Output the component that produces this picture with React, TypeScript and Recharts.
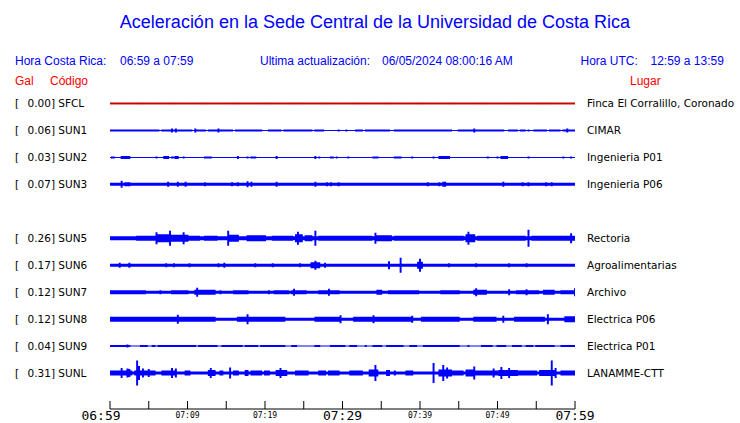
import React from 'react';
import { ComposedChart, Area, XAxis, YAxis } from 'recharts';

// time axis, minutes after 06:59
const timeTicks = [0, 5, 10, 15, 20, 25, 30, 35, 40, 45, 50, 55, 60];
const tickLabels: Record<number, string> = {
  0: '06:59', 10: '07:09', 20: '07:19', 30: '07:29', 40: '07:39', 50: '07:49', 60: '07:59',
};
const majorTicks = [0, 30, 60];

// trace slots, SUN4 has no trace
const slots = ['SFCL', 'SUN1', 'SUN2', 'SUN3', 'SUN4', 'SUN5', 'SUN6', 'SUN7', 'SUN8', 'SUN9', 'SUNL'];
const codes = ['SFCL', 'SUN1', 'SUN2', 'SUN3', 'SUN5', 'SUN6', 'SUN7', 'SUN8', 'SUN9', 'SUNL'];
const gals = ['0.00', '0.06', '0.03', '0.07', '0.26', '0.17', '0.12', '0.12', '0.04', '0.31'];
const places = [
  'Finca El Corralillo, Coronado', 'CIMAR', 'Ingenieria P01', 'Ingenieria P06', 'Rectoria',
  'Agroalimentarias', 'Archivo', 'Electrica P06', 'Electrica P01', 'LANAMME-CTT',
];

// quiet amplitude of each trace
const baseAmp = [0.5, 0.5, 0.5, 1.5, 2.0, 1.5, 1.5, 1.5, 0.5, 1.5];

// bursts: [from min, to min, amplitude]
const bursts: [number, number, number][][] = [
  [],
  [[0, 1.5, 1.0], [1.8, 3.3, 1.0], [3.6, 5.2, 1.0], [5.4, 6.2, 1.0], [6.7, 7.0, 1.0], [7.3, 10.5, 1.0],
    [7.9, 7.9, 2.0], [8.6, 8.6, 2.0], [10.9, 10.9, 2.0], [11.2, 12.3, 1.0], [12.7, 14.4, 1.0], [14.0, 14.0, 2.0],
    [14.8, 15.7, 1.0], [16.3, 17.8, 1.0], [18.1, 18.7, 1.0], [19.0, 19.6, 1.0], [20.4, 22.0, 1.0], [22.6, 23.2, 1.0],
    [23.4, 26.0, 1.0], [26.4, 27.5, 1.0], [29.5, 29.5, 1.0], [30.5, 30.5, 1.0], [31.8, 32.5, 1.0], [33.0, 35.0, 1.0],
    [35.3, 36.0, 1.0], [36.8, 44.1, 1.0], [45.0, 48.4, 1.0], [47.0, 47.0, 2.0], [48.8, 50.7, 1.0], [51.4, 52.5, 1.0],
    [53.0, 53.6, 1.0], [54.0, 54.0, 1.0], [54.8, 56.3, 1.0], [56.8, 58.1, 1.0], [58.5, 60, 1.0], [59.1, 59.1, 2.0]],
  [[0.2, 0.6, 1.0], [1.5, 2.4, 1.5], [6.0, 6.0, 1.0], [7.1, 7.5, 1.5], [8.0, 8.2, 1.0], [8.6, 8.8, 1.5],
    [9.6, 9.6, 1.0], [12.3, 13.1, 1.0], [16.5, 16.5, 1.5], [17.8, 17.8, 1.0], [18.3, 18.7, 1.0], [21.4, 21.6, 1.5],
    [26.4, 26.4, 1.5], [26.9, 26.9, 1.0], [28.5, 28.7, 1.0], [29.3, 29.3, 1.0], [30.8, 30.8, 1.0], [34.0, 34.4, 1.0],
    [36.8, 37.4, 1.0], [38.9, 38.9, 1.0], [41.8, 41.8, 1.0], [42.4, 43.7, 1.5], [48.8, 48.8, 1.0], [50.1, 50.1, 1.0],
    [50.5, 51.2, 1.5], [54.1, 54.1, 1.0], [58.6, 58.6, 1.0], [59.5, 59.5, 1.0]],
  [[1.6, 1.6, 3.5], [1.9, 2.4, 2.0], [7.4, 7.4, 2.5], [8.8, 8.8, 2.5], [9.7, 9.7, 2.5], [12.3, 12.3, 2.0],
    [15.8, 15.8, 2.0], [16.6, 16.6, 2.0], [17.8, 17.8, 3.0], [18.3, 18.3, 2.5], [21.5, 21.5, 2.5], [26.4, 26.4, 2.5],
    [27.9, 27.9, 2.0], [28.6, 28.6, 2.0], [29.5, 29.5, 2.0], [41.1, 41.1, 2.0], [42.6, 42.6, 2.0], [43.0, 43.3, 2.5],
    [50.8, 50.8, 2.5], [53.3, 53.3, 2.0], [54.1, 54.1, 2.0], [56.3, 56.3, 2.0], [57.1, 57.1, 2.0]],
  [[3.4, 5.8, 2.5], [6.0, 7.5, 4.0], [6.0, 6.0, 6.0], [7.7, 7.7, 7.5], [8.0, 9.9, 3.5], [9.5, 9.5, 6.0],
    [10.3, 11.4, 2.5], [12.3, 13.8, 2.5], [15.3, 16.6, 3.5], [15.3, 15.3, 7.5], [17.8, 20.0, 3.0], [20.9, 23.4, 2.5],
    [24.1, 24.7, 4.0], [24.3, 24.3, 6.5], [25.2, 26.0, 3.0], [26.4, 26.4, 7.5], [26.9, 28.2, 2.5], [28.6, 33.8, 2.5],
    [34.3, 34.3, 5.5], [34.4, 36.3, 3.0], [36.8, 45.4, 2.5], [45.9, 47.1, 4.0], [46.2, 46.2, 6.5], [47.5, 53.5, 2.5],
    [54.1, 54.1, 8.5], [54.4, 60, 2.5], [59.4, 59.4, 5.0]],
  [[1.3, 1.3, 2.5], [2.6, 2.6, 2.5], [7.3, 7.3, 2.0], [8.3, 8.3, 2.0], [10.3, 10.3, 2.0], [14.0, 14.0, 2.0],
    [14.8, 14.8, 2.5], [18.7, 18.7, 2.0], [20.9, 20.9, 2.0], [24.5, 24.5, 2.0], [26.0, 26.9, 3.0], [26.5, 26.5, 4.5],
    [27.7, 27.7, 2.5], [35.9, 35.9, 4.0], [37.5, 37.5, 7.5], [39.8, 40.2, 3.5], [40.0, 40.0, 6.5],
    [43.7, 43.7, 2.0], [47.3, 47.3, 2.0], [51.4, 51.4, 2.0], [53.8, 53.8, 2.0]],
  [[0, 4.5, 2.0], [6.5, 6.5, 2.0], [8.0, 10.1, 2.0], [11.0, 13.5, 2.5], [11.3, 11.3, 4.5], [14.2, 14.2, 2.0],
    [16.1, 17.8, 2.0], [20.4, 20.4, 2.0], [21.3, 23.0, 2.0], [23.4, 25.2, 2.0], [23.7, 23.7, 3.5], [26.9, 29.5, 2.0],
    [28.2, 28.2, 3.5], [34.6, 35.1, 2.5], [35.9, 39.8, 2.0], [42.8, 45.0, 2.0], [47.1, 48.4, 2.5],
    [47.3, 47.3, 4.0], [51.4, 51.4, 3.0], [52.5, 55.3, 2.0], [53.8, 53.8, 3.0], [56.1, 57.2, 2.5],
    [58.3, 60, 2.0], [59.9, 59.9, 4.0]],
  [[0, 8.0, 2.5], [8.8, 8.8, 4.5], [8.0, 13.5, 2.5], [16.6, 22.6, 2.5], [17.8, 17.8, 5.0],
    [26.5, 29.5, 2.5], [29.8, 29.8, 4.0], [31.4, 33.8, 2.5], [34.1, 34.1, 4.0], [34.2, 39.0, 2.5],
    [39.1, 39.1, 3.5], [40.2, 45.0, 2.5], [47.1, 49.7, 2.5], [50.8, 50.8, 3.5], [52.3, 56.1, 2.5],
    [56.6, 56.6, 5.0], [58.7, 60, 3.0]],
  [[0, 2.6, 1.0], [2.3, 2.3, 1.5], [4.0, 4.7, 1.0], [5.4, 5.8, 1.0], [6.2, 11.0, 1.0], [11.6, 13.8, 1.0],
    [14.4, 17.0, 1.0], [17.4, 19.1, 1.0], [19.6, 22.4, 1.0], [23.4, 24.1, 1.0], [26.5, 26.9, 1.0], [28.6, 30.3, 1.0],
    [31.0, 31.8, 1.0], [32.9, 32.9, 1.0], [34.0, 35.1, 1.0], [35.7, 37.8, 1.0], [38.7, 39.4, 1.0], [40.4, 42.4, 1.0],
    [42.6, 45.0, 1.0], [46.2, 46.2, 1.0], [48.0, 49.2, 1.0], [50.1, 51.0, 1.0], [52.0, 52.9, 1.0], [53.8, 54.6, 1.0],
    [55.1, 57.2, 1.0], [58.2, 60, 1.0]],
  [[0, 2.8, 2.5], [1.4, 1.4, 5.0], [2.2, 2.2, 4.5], [2.6, 2.6, 4.0], [3.4, 3.4, 12.5], [3.8, 3.8, 7.0],
    [3.2, 5.8, 2.5], [4.3, 4.3, 4.5], [4.9, 4.9, 4.0], [6.7, 8.6, 2.5], [8.0, 8.0, 5.0], [8.6, 8.6, 4.5],
    [9.7, 10.3, 2.5], [12.7, 13.5, 3.0], [13.0, 13.0, 5.0], [14.2, 14.6, 2.5], [15.5, 15.5, 5.5], [15.9, 16.6, 2.5],
    [17.4, 17.8, 3.0], [18.3, 19.4, 2.5], [20.0, 20.4, 2.5], [21.5, 22.8, 3.0], [21.9, 21.9, 5.0], [24.1, 25.6, 2.5],
    [26.9, 27.7, 2.5], [28.2, 29.5, 2.5], [31.0, 32.5, 2.5], [33.5, 34.4, 3.5], [34.2, 34.2, 8.0], [35.7, 35.9, 3.0],
    [36.8, 36.8, 2.5], [38.3, 39.1, 2.5], [41.7, 41.7, 10.0], [42.4, 43.9, 3.5], [42.9, 42.9, 8.0], [43.6, 43.6, 5.5],
    [44.3, 45.4, 2.5], [45.9, 47.1, 3.5], [46.9, 46.9, 6.5], [47.3, 48.4, 2.5], [48.8, 49.9, 2.5], [49.5, 49.5, 4.5],
    [50.3, 52.5, 3.0], [50.6, 50.6, 6.0], [51.4, 51.4, 5.0], [52.6, 55.0, 2.5], [55.5, 57.6, 3.0], [56.9, 56.9, 12.5],
    [57.4, 57.4, 5.0], [58.2, 60, 2.5]],
];

const STEP = 0.25;
const SLOT = 27;
const TOP = SLOT * slots.length;
const centerOf = (code: string) => TOP - SLOT / 2 - SLOT * slots.indexOf(code);

const buildData = () => {
  const n = Math.round(60 / STEP);
  const rows: any[] = [];
  for (let i = 0; i <= n; i++) {
    const t = i * STEP;
    const row: any = { t };
    codes.forEach((code, k) => {
      let a = baseAmp[k];
      bursts[k].forEach(([from, to, amp]) => {
        if (t >= from - STEP / 2 && t <= to + STEP / 2) a = Math.max(a, amp);
      });
      const c = centerOf(code);
      row[code] = [c - a, c + a];
    });
    rows.push(row);
  }
  return rows;
};

const data = buildData();
const stationTicks = codes.map(centerOf);

const BLUE = '#0000ff';
const RED = '#ff0000';

const TimeTick = (props: any) => {
  const { x, y, payload } = props;
  const label = tickLabels[payload.value];
  const major = majorTicks.includes(payload.value);
  return (
    <g>
      <line x1={x} y1={y - 8} x2={x} y2={y} stroke="#000" strokeWidth={1} />
      {label && (
        <text
          x={x + (payload.value === 0 ? -9 : 0)}
          y={major ? y + 11 : y + 8.5}
          textAnchor="middle"
          fontFamily="DejaVu Sans Mono"
          fontSize={major ? 13 : 8}
          fill="#000"
        >
          {label}
        </text>
      )}
    </g>
  );
};

const StationTick = (props: any) => {
  const { y, payload } = props;
  const k = stationTicks.findIndex((v) => Math.abs(v - payload.value) < 0.01);
  if (k < 0) return null;
  return (
    <g fontFamily="DejaVu Sans" fontSize={10.5} fill="#000">
      <text x={15} y={y + 4}>[</text>
      <text x={27.5} y={y + 4}>{`${gals[k]}] ${codes[k]}`}</text>
      <text x={587} y={y + 4}>{places[k]}</text>
    </g>
  );
};

const App: React.FC = () => {
  return (
    <div style={{ position: 'absolute', left: 0, top: 0, width: 740, height: 423, background: '#fff' }}>
      <ComposedChart
        width={740}
        height={423}
        data={data}
        margin={{ top: 90, right: 165, left: 0, bottom: 0 }}
      >
        <XAxis
          dataKey="t"
          type="number"
          domain={[0, 60]}
          ticks={timeTicks}
          interval={0}
          height={14}
          tickSize={0}
          tickMargin={0}
          axisLine={{ stroke: '#000', strokeWidth: 1 }}
          tickLine={false}
          tick={<TimeTick />}
        />
        <YAxis
          type="number"
          domain={[-22.5, TOP]}
          ticks={stationTicks}
          interval={0}
          width={110}
          axisLine={false}
          tickLine={false}
          tick={<StationTick />}
        />
        {codes.map((code, k) => (
          <Area
            key={code}
            type="step"
            dataKey={code}
            stroke={k === 0 ? '#cc0000' : 'none'}
            strokeWidth={k === 0 ? 1 : 0}
            fill={k === 0 ? '#cc0000' : BLUE}
            fillOpacity={1}
            dot={false}
            activeDot={false}
            isAnimationActive={false}
          />
        ))}
      </ComposedChart>
      <svg
        width={740}
        height={423}
        style={{ position: 'absolute', left: 0, top: 0, pointerEvents: 'none' }}
        fontFamily="Liberation Sans"
      >
        <text x={375} y={28} textAnchor="middle" fontSize={18} fill={BLUE}>
          Aceleración en la Sede Central de la Universidad de Costa Rica
        </text>
        <g fontSize={12} fill={BLUE}>
          <text x={15} y={65}>Hora Costa Rica:</text>
          <text x={120} y={65}>06:59 a 07:59</text>
          <text x={260} y={65}>Ultima actualización:</text>
          <text x={382} y={65}>06/05/2024 08:00:16 AM</text>
          <text x={580.5} y={65}>Hora UTC:</text>
          <text x={650.5} y={65}>12:59 a 13:59</text>
        </g>
        <g fontSize={12} fill={RED}>
          <text x={15} y={85}>Gal</text>
          <text x={50} y={85}>Código</text>
          <text x={630} y={85}>Lugar</text>
        </g>
      </svg>
    </div>
  );
};

export default App;
